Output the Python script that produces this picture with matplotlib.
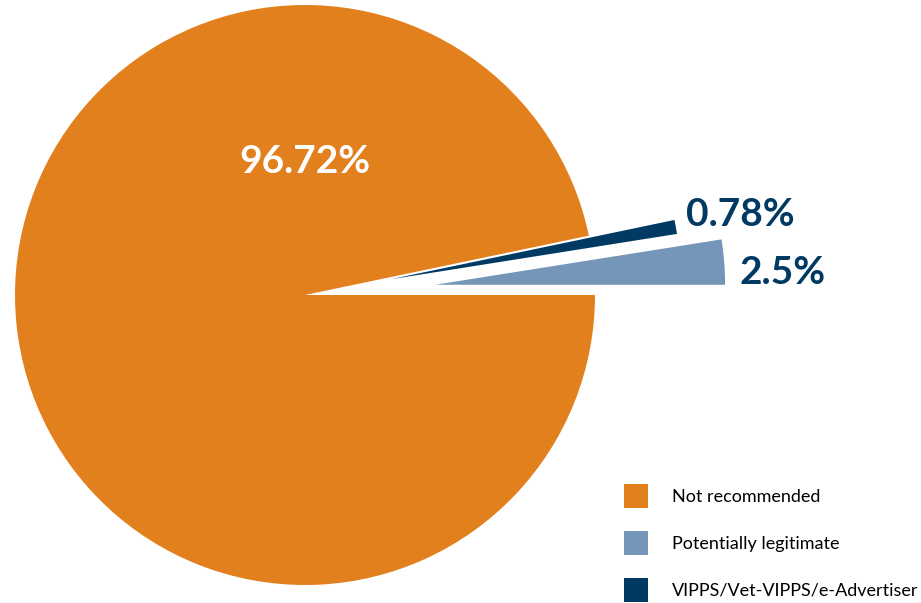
import matplotlib.pyplot as plt

# slice data (counter-clockwise from 3 o'clock)
labels = ['Potentially legitimate', 'VIPPS/Vet-VIPPS/e-Advertiser', 'Not recommended']
values = [2.5, 0.78, 96.72]
value_text = ['2.5%', '0.78%', '96.72%']
colors = ['#7596b8', '#003a63', '#e3801e']
explode = [0.45, 0.30, 0]

R = 290.0  # pie radius in pixels
fig = plt.figure(figsize=(9.21, 6.03), dpi=100)
ax = fig.add_axes([0, 0, 1, 1])

wedges, _ = ax.pie(values, colors=colors, explode=explode, startangle=0,
                   counterclock=True, radius=1)

ax.set_xlim(-305 / R, 616 / R)
ax.set_ylim(-308 / R, 295 / R)
ax.axis('off')

font = 'Lato'
ax.text(0, 0.459, value_text[2], color='white', fontsize=28, fontweight='bold',
        family=font, ha='center', va='center')
ax.text(1.50, 0.279, value_text[1], color=colors[1], fontsize=28, fontweight='bold',
        family=font, ha='center', va='center')
ax.text(1.648, 0.076, value_text[0], color=colors[1], fontsize=28, fontweight='bold',
        family=font, ha='center', va='center')

# legend: orange, light blue, navy
order = [2, 0, 1]
fs = 13
em = fs * 100 / 72.0
fig.legend([wedges[i] for i in order], [labels[i] for i in order],
           loc='upper left', bbox_to_anchor=(624 / 921, 1 - 484 / 603),
           frameon=False, borderpad=0, borderaxespad=0,
           handlelength=24 / em, handleheight=1.67, handletextpad=24 / em,
           labelspacing=1.27, prop={'family': font, 'size': fs})

fig.savefig('out.png', dpi=100)
